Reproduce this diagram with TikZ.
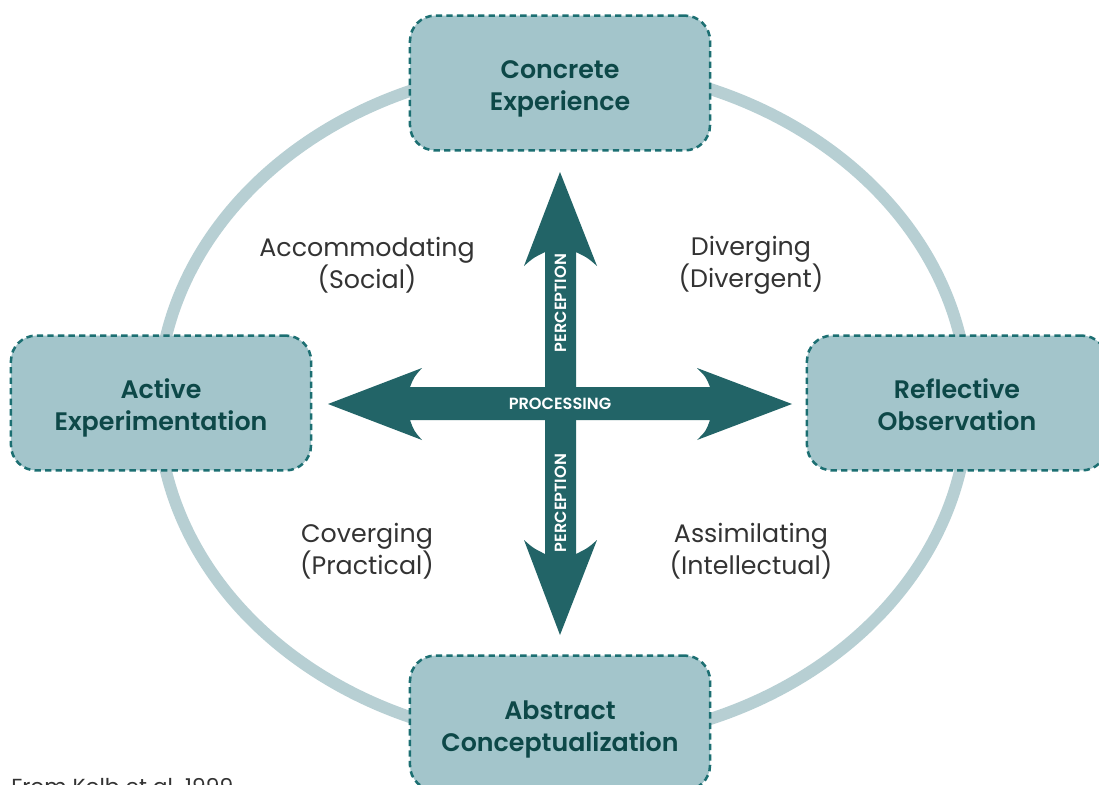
\documentclass[tikz,border=0pt]{standalone}
\usepackage{fontspec}
\setmainfont{Poppins}[BoldFont={Poppins SemiBold}]
\usetikzlibrary{positioning}
\definecolor{boxfill}{HTML}{A3C5CB}
\definecolor{boxline}{HTML}{1C6F72}
\definecolor{boxtext}{HTML}{0D4848}
\definecolor{ringcol}{HTML}{B7CFD3}
\definecolor{arrowcol}{HTML}{226467}
\definecolor{quadtext}{HTML}{333333}
\tikzset{
	x=0.025cm, y=-0.025cm,
	stage/.style ={rectangle, rounded corners=18pt, draw=boxline, fill=boxfill, line width=1.8pt,
		dash pattern=on 4.5pt off 3pt, minimum width=7.5cm, minimum height=3.37cm},
	stage lbl/.style = {align=center, text=boxtext, yshift=-4.5pt, font=\fontsize{18}{22.8}\selectfont\bfseries},
	style lbl/.style = {align=center, text=quadtext, font=\fontsize{18}{22.8}\selectfont},
	axis lbl/.style = {text=white, font=\fontsize{11.5}{12}\selectfont\bfseries},
	ring/.style = {draw=ringcol, line width=8.5pt}
}
\begin{document}
\begin{tikzpicture}
		\clip (0,0) rectangle (1099,784);
		\fill[white] (0,0) rectangle (1099,784);
		
		% learning cycle
		\draw[ring] (563,404) ellipse [x radius=405, y radius=338];
		
		% the four stages
		\node[stage, label={[stage lbl, name=ce lbl]center:{Concrete\\Experience}}] (ce) at (560, 83) {};
		\node[stage, label={[stage lbl, yshift=3pt, name=ro lbl]center:{Reflective\\Observation}}] (ro) at (957, 403) {};
		\node[stage, label={[stage lbl, name=ac lbl]center:{Abstract\\Conceptualization}}] (ac) at (560, 723) {};
		\node[stage, label={[stage lbl, yshift=1pt, name=ae lbl]center:{Active\\Experimentation}}] (ae) at (161, 403) {};
		
		% perception and processing axes
		\fill[arrowcol] (560,172) -- (597,266) .. controls (588,258) .. (576,252) -- (576,554)
			.. controls (588,548) .. (597,540) -- (560,635) -- (524,540) .. controls (533,548) .. (545,554)
			-- (545,252) .. controls (533,258) .. (524,266) -- cycle;
		\fill[arrowcol] (328,404) -- (422,368) .. controls (414,377) .. (410,387) -- (710,387)
			.. controls (706,377) .. (697,368) -- (792,404) -- (697,440) .. controls (706,431) .. (710,420)
			-- (410,420) .. controls (414,431) .. (422,440) -- cycle;
		\node[axis lbl] (proc) at (560,404) {PROCESSING};
		\node[axis lbl, rotate=90] (perc up) at (561,303) {PERCEPTION};
		\node[axis lbl, rotate=90] (perc down) at (561,503) {PERCEPTION};
		
		% learning styles
		\node[style lbl] (acc) at (367,265) {Accommodating\\(Social)};
		\node[style lbl] (div) at (751,265) {Diverging\\(Divergent)};
		\node[style lbl] (conv) at (367,551) {Coverging\\(Practical)};
		\node[style lbl] (assim) at (751,551) {Assimilating\\(Intellectual)};
		
		\node[anchor=north west, text=quadtext, font=\fontsize{15.5}{16}\selectfont, inner sep=0pt] (src) at (11,778) {From Kolb et al. 1999};
		\end{tikzpicture}
\end{document}
